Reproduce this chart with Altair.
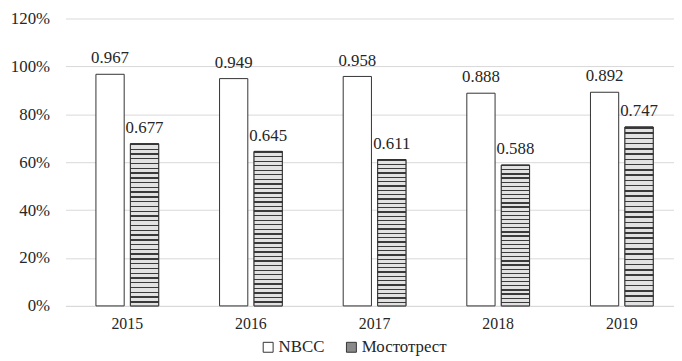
import altair as alt
import pandas as pd

years = ["2015", "2016", "2017", "2018", "2019"]
series = ["NBCC", "Мостотрест"]
nbcc = [0.967, 0.949, 0.958, 0.888, 0.892]
most = [0.677, 0.645, 0.611, 0.588, 0.747]
y_ticks = [0, 0.2, 0.4, 0.6, 0.8, 1.0, 1.2]

rows = []
for i, yr in enumerate(years):
    rows.append({"year": yr, "series": series[0], "value": nbcc[i]})
    rows.append({"year": yr, "series": series[1], "value": most[i]})
df = pd.DataFrame(rows)
df["label"] = df["value"].map(lambda v: f"{v:.3f}")

# brick-like striped fill (style only)
stops = []
n_rows = 34
for k in range(n_rows):
    a = k / n_rows
    b = (k + 0.3) / n_rows
    c = (k + 1) / n_rows
    stops += [
        alt.GradientStop(offset=a, color="#3a3a3a"),
        alt.GradientStop(offset=b, color="#3a3a3a"),
        alt.GradientStop(offset=b, color="#e2e2e2"),
        alt.GradientStop(offset=c, color="#e2e2e2"),
    ]
brick = alt.LinearGradient(gradient="linear", stops=stops, x1=0, x2=0, y1=0, y2=1)

FONT = "Liberation Serif"

x_enc = alt.X(
    "year:N",
    sort=years,
    title=None,
    scale=alt.Scale(paddingInner=0.4926, paddingOuter=0.2073, align=0.594),
    axis=alt.Axis(
        labelAngle=0, labelFont=FONT, labelFontSize=16, labelColor="#262626",
        labelPadding=10, ticks=False, domainColor="#d9d9d9", domainWidth=1,
        grid=False,
    ),
)
xoff_enc = alt.XOffset(
    "series:N", scale=alt.Scale(domain=series, paddingInner=0.181, paddingOuter=0)
)
y_enc = alt.Y(
    "value:Q",
    title=None,
    scale=alt.Scale(domain=[0, 1.2], nice=False),
    axis=alt.Axis(
        values=y_ticks, format=".0%", labelFont=FONT, labelFontSize=17,
        labelColor="#262626", labelPadding=16, ticks=False, domain=False,
        grid=True, gridColor="#d9d9d9", gridWidth=1,
    ),
)

base = alt.Chart(df)

bars = base.mark_bar(stroke="#333333", strokeWidth=1).encode(
    x=x_enc,
    xOffset=xoff_enc,
    y=y_enc,
    fill=alt.Fill(
        "series:N",
        scale=alt.Scale(domain=series, range=["#ffffff", "#8a8a8a"]),
        legend=alt.Legend(
            title=None, orient="none", legendX=196, legendY=323,
            direction="horizontal", symbolType="square", symbolSize=100,
            symbolStrokeColor="#333333", symbolStrokeWidth=1,
            labelFont=FONT, labelFontSize=17, labelColor="#262626",
            labelOffset=2, columnPadding=18,
        ),
    ),
)

brick_bars = base.transform_filter(
    alt.datum.series == series[1]
).mark_bar(fill=brick, stroke="#333333", strokeWidth=1).encode(
    x=x_enc, xOffset=xoff_enc, y=y_enc
)

labels = base.mark_text(
    dy=-11, font=FONT, fontSize=17, color="#262626", baseline="alphabetic"
).encode(x=x_enc, xOffset=xoff_enc, y=y_enc, text="label:N")

chart = alt.layer(bars, brick_bars, labels).properties(
    width=614,
    height=290,
    autosize=alt.AutoSizeParams(type="none"),
    padding={"left": 58, "top": 9, "right": 0, "bottom": 53},
    background="white",
).configure(font=FONT).configure_view(stroke=None).configure_legend(
    labelFont=FONT
)

chart.save("out.html", embed_options={"renderer": "svg", "actions": False})
